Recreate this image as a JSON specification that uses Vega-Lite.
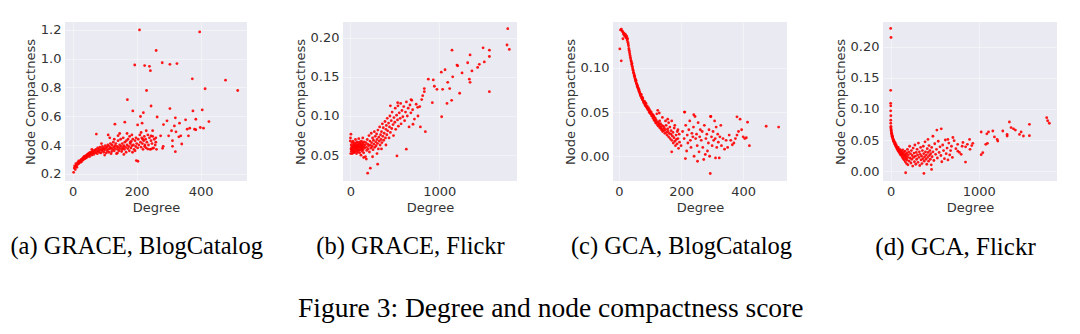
{
"$schema": "https://vega.github.io/schema/vega-lite/v6.json",
"background": "white",
"padding": {"left": 10, "top": 22, "right": 5, "bottom": 2},
"bounds": "flush",
"spacing": 96,
"config": {
  "view": {"fill": "#EAEAF2", "stroke": null},
  "axis": {"grid": true, "gridColor": "#FFFFFF", "gridOpacity": 0.4, "gridWidth": 1, "domain": false, "ticks": false, "labelFont": "DejaVu Sans", "labelFontSize": 13, "labelColor": "#333333", "titleFont": "DejaVu Sans", "titleFontSize": 13, "titleFontWeight": "normal", "titleColor": "#333333", "labelPadding": 4, "titlePadding": 3},
  "title": {"font": "Liberation Serif", "fontWeight": "normal", "color": "#000000"}
},
"title": {"text": "Figure 3: Degree and node compactness score", "orient": "bottom", "anchor": "middle", "fontSize": 27.5, "offset": 35, "dx": 17},
"datasets": {
"a": [
{"x":209,"y":1.2},{"x":397,"y":1.186},{"x":261,"y":1.057},{"x":194,"y":0.956},{"x":225,"y":0.952},{"x":240,"y":0.947},{"x":243,"y":0.917},{"x":280,"y":0.972},{"x":304,"y":0.961},{"x":326,"y":0.966},{"x":374,"y":0.86},{"x":478,"y":0.851},{"x":414,"y":0.791},{"x":516,"y":0.779},{"x":231,"y":0.779},{"x":171,"y":0.715},{"x":245,"y":0.671},{"x":188,"y":0.637},{"x":221,"y":0.625},{"x":304,"y":0.653},{"x":376,"y":0.637},{"x":405,"y":0.644},{"x":212,"y":0.598},{"x":264,"y":0.595},{"x":163,"y":0.559},{"x":132,"y":0.545},{"x":203,"y":0.54},{"x":217,"y":0.552},{"x":284,"y":0.542},{"x":295,"y":0.568},{"x":321,"y":0.589},{"x":318,"y":0.533},{"x":334,"y":0.552},{"x":353,"y":0.575},{"x":385,"y":0.579},{"x":358,"y":0.51},{"x":366,"y":0.517},{"x":381,"y":0.51},{"x":399,"y":0.522},{"x":409,"y":0.517},{"x":385,"y":0.506},{"x":426,"y":0.563},{"x":309,"y":0.499},{"x":323,"y":0.492},{"x":338,"y":0.464},{"x":332,"y":0.457},{"x":312,"y":0.43},{"x":283,"y":0.391},{"x":281,"y":0.377},{"x":312,"y":0.391},{"x":321,"y":0.354},{"x":341,"y":0.407},{"x":362,"y":0.464},{"x":275,"y":0.464},{"x":300,"y":0.464},
{"x":3,"y":0.21},{"x":5,"y":0.24},{"x":6,"y":0.255},{"x":8,"y":0.23},{"x":9,"y":0.25},{"x":10,"y":0.27},{"x":12,"y":0.255},{"x":13,"y":0.245},{"x":15,"y":0.265},{"x":16,"y":0.28},{"x":18,"y":0.27},{"x":19,"y":0.29},{"x":20,"y":0.275},{"x":22,"y":0.285},{"x":23,"y":0.29},{"x":25,"y":0.28},{"x":26,"y":0.295},{"x":27,"y":0.3},{"x":28,"y":0.285},{"x":30,"y":0.305},{"x":31,"y":0.295},{"x":33,"y":0.31},{"x":34,"y":0.3},{"x":35,"y":0.315},{"x":36,"y":0.32},{"x":38,"y":0.305},{"x":39,"y":0.315},{"x":40,"y":0.325},{"x":41,"y":0.31},{"x":43,"y":0.32},{"x":44,"y":0.33},{"x":45,"y":0.315},{"x":46,"y":0.335},{"x":48,"y":0.325},{"x":49,"y":0.34},{"x":50,"y":0.33},{"x":52,"y":0.345},{"x":53,"y":0.32},{"x":55,"y":0.335},{"x":56,"y":0.35},{"x":58,"y":0.34},{"x":60,"y":0.33},{"x":61,"y":0.355},{"x":63,"y":0.345},{"x":65,"y":0.36},{"x":66,"y":0.335},{"x":68,"y":0.35},{"x":70,"y":0.365},{"x":72,"y":0.345},{"x":73,"y":0.37},{"x":75,"y":0.355},{"x":77,"y":0.34},{"x":78,"y":0.38},{"x":80,"y":0.36},{"x":82,"y":0.37},{"x":83,"y":0.35},{"x":85,"y":0.385},{"x":87,"y":0.365},{"x":88,"y":0.345},{"x":90,"y":0.375},{"x":92,"y":0.36},{"x":93,"y":0.39},{"x":95,"y":0.37},{"x":97,"y":0.35},{"x":98,"y":0.38},{"x":100,"y":0.365},{"x":102,"y":0.395},{"x":104,"y":0.375},{"x":105,"y":0.345},{"x":107,"y":0.385},{"x":108,"y":0.36},{"x":110,"y":0.4},{"x":112,"y":0.37},{"x":113,"y":0.35},{"x":115,"y":0.39},{"x":117,"y":0.375},{"x":118,"y":0.41},{"x":120,"y":0.38},{"x":122,"y":0.355},{"x":123,"y":0.4},{"x":125,"y":0.37},{"x":127,"y":0.42},{"x":128,"y":0.385},{"x":130,"y":0.36},{"x":132,"y":0.395},{"x":133,"y":0.375},{"x":135,"y":0.41},{"x":137,"y":0.34},{"x":138,"y":0.39},{"x":140,"y":0.37},{"x":142,"y":0.43},{"x":143,"y":0.385},{"x":145,"y":0.36},{"x":147,"y":0.4},{"x":148,"y":0.375},{"x":150,"y":0.44},{"x":152,"y":0.39},{"x":153,"y":0.355},{"x":155,"y":0.41},{"x":157,"y":0.38},{"x":158,"y":0.45},{"x":160,"y":0.395},{"x":162,"y":0.37},{"x":163,"y":0.42},{"x":165,"y":0.385},{"x":167,"y":0.35},{"x":168,"y":0.43},{"x":170,"y":0.4},{"x":172,"y":0.375},{"x":173,"y":0.44},{"x":175,"y":0.39},{"x":177,"y":0.36},{"x":178,"y":0.46},{"x":180,"y":0.41},{"x":182,"y":0.38},{"x":183,"y":0.425},{"x":185,"y":0.395},{"x":187,"y":0.35},{"x":188,"y":0.44},{"x":190,"y":0.4},{"x":192,"y":0.37},{"x":195,"y":0.43},{"x":197,"y":0.39},{"x":198,"y":0.45},{"x":200,"y":0.41},{"x":203,"y":0.38},{"x":205,"y":0.44},{"x":207,"y":0.4},{"x":210,"y":0.47},{"x":212,"y":0.42},{"x":214,"y":0.385},{"x":216,"y":0.45},{"x":218,"y":0.41},{"x":220,"y":0.37},{"x":222,"y":0.43},{"x":224,"y":0.46},{"x":226,"y":0.4},{"x":228,"y":0.44},{"x":230,"y":0.38},{"x":232,"y":0.42},{"x":235,"y":0.47},{"x":237,"y":0.4},{"x":240,"y":0.45},{"x":242,"y":0.37},{"x":245,"y":0.43},{"x":248,"y":0.41},{"x":250,"y":0.46},{"x":253,"y":0.38},{"x":255,"y":0.44},{"x":258,"y":0.4},{"x":260,"y":0.45},{"x":262,"y":0.37},
{"x":74,"y":0.476},{"x":100,"y":0.33},{"x":120,"y":0.34},{"x":140,"y":0.345},{"x":160,"y":0.335},{"x":199,"y":0.292},{"x":204,"y":0.287},{"x":111,"y":0.47},{"x":142,"y":0.465},{"x":147,"y":0.48},{"x":116,"y":0.45},{"x":214,"y":0.487},{"x":230,"y":0.499},{"x":245,"y":0.464},{"x":250,"y":0.5},{"x":219,"y":0.44},{"x":235,"y":0.372},{"x":245,"y":0.372},{"x":250,"y":0.377},{"x":170,"y":0.48},{"x":185,"y":0.47},{"x":130,"y":0.44},{"x":90,"y":0.41},{"x":60,"y":0.37},{"x":155,"y":0.37},{"x":195,"y":0.36},{"x":180,"y":0.42},{"x":225,"y":0.39},{"x":260,"y":0.42}
],
"b": [
{"x":1768,"y":0.2115},{"x":1760,"y":0.1906},{"x":1786,"y":0.185},{"x":1142,"y":0.184},{"x":1491,"y":0.187},{"x":1562,"y":0.184},{"x":1345,"y":0.178},{"x":1562,"y":0.176},{"x":1198,"y":0.165},{"x":1206,"y":0.164},{"x":1318,"y":0.168},{"x":1449,"y":0.166},{"x":1505,"y":0.169},{"x":1366,"y":0.1575},{"x":1430,"y":0.162},{"x":1022,"y":0.156},{"x":1064,"y":0.159},{"x":932,"y":0.146},{"x":876,"y":0.147},{"x":1150,"y":0.15},{"x":1255,"y":0.155},{"x":1337,"y":0.147},{"x":1345,"y":0.143},{"x":1094,"y":0.143},{"x":1037,"y":0.134},{"x":973,"y":0.134},{"x":831,"y":0.135},{"x":831,"y":0.131},{"x":944,"y":0.138},{"x":1116,"y":0.135},{"x":1228,"y":0.129},{"x":1562,"y":0.131},{"x":921,"y":0.117},{"x":1086,"y":0.116},{"x":1138,"y":0.12},{"x":1026,"y":0.099},{"x":682,"y":0.121},{"x":813,"y":0.126},{"x":802,"y":0.121},{"x":757,"y":0.111},{"x":704,"y":0.0895},{"x":787,"y":0.086},{"x":843,"y":0.08},{"x":629,"y":0.0576},{"x":524,"y":0.049},{"x":307,"y":0.0385},{"x":225,"y":0.0334},{"x":195,"y":0.027},{"x":7,"y":0.0768},{"x":0,"y":0.0682},
{"x":5,"y":0.052},{"x":8,"y":0.058},{"x":10,"y":0.063},{"x":12,"y":0.055},{"x":15,"y":0.06},{"x":18,"y":0.066},{"x":20,"y":0.057},{"x":22,"y":0.052},{"x":25,"y":0.061},{"x":28,"y":0.068},{"x":30,"y":0.055},{"x":33,"y":0.059},{"x":35,"y":0.064},{"x":38,"y":0.053},{"x":40,"y":0.062},{"x":43,"y":0.057},{"x":45,"y":0.066},{"x":48,"y":0.06},{"x":50,"y":0.054},{"x":53,"y":0.063},{"x":55,"y":0.058},{"x":58,"y":0.07},{"x":60,"y":0.061},{"x":63,"y":0.055},{"x":65,"y":0.065},{"x":68,"y":0.059},{"x":70,"y":0.052},{"x":73,"y":0.062},{"x":75,"y":0.067},{"x":78,"y":0.057},{"x":80,"y":0.063},{"x":83,"y":0.06},{"x":85,"y":0.054},{"x":88,"y":0.066},{"x":90,"y":0.058},{"x":93,"y":0.062},{"x":95,"y":0.071},{"x":98,"y":0.056},{"x":100,"y":0.064},{"x":103,"y":0.06},{"x":105,"y":0.053},{"x":108,"y":0.067},{"x":110,"y":0.061},{"x":113,"y":0.057},{"x":115,"y":0.065},{"x":118,"y":0.059},{"x":120,"y":0.05},{"x":123,"y":0.063},{"x":125,"y":0.068},{"x":128,"y":0.058},{"x":130,"y":0.062},{"x":133,"y":0.055},{"x":135,"y":0.066},{"x":138,"y":0.06},{"x":140,"y":0.072},{"x":143,"y":0.057},{"x":145,"y":0.064},{"x":148,"y":0.061},{"x":150,"y":0.053},{"x":155,"y":0.067},{"x":160,"y":0.059},{"x":165,"y":0.063},{"x":170,"y":0.048},{"x":175,"y":0.066},{"x":180,"y":0.06},{"x":185,"y":0.056},{"x":190,"y":0.07},{"x":195,"y":0.064},{"x":200,"y":0.058},{"x":205,"y":0.062},{"x":210,"y":0.075},{"x":215,"y":0.054},{"x":220,"y":0.068},{"x":225,"y":0.063},{"x":230,"y":0.059},{"x":235,"y":0.078},{"x":240,"y":0.066},{"x":245,"y":0.061},{"x":250,"y":0.072},{"x":255,"y":0.057},{"x":260,"y":0.069},{"x":265,"y":0.064},{"x":270,"y":0.08},{"x":275,"y":0.06},{"x":280,"y":0.074},{"x":285,"y":0.067},{"x":290,"y":0.062},{"x":295,"y":0.077},{"x":300,"y":0.07},{"x":305,"y":0.065},{"x":310,"y":0.082},{"x":315,"y":0.058},{"x":320,"y":0.073},{"x":325,"y":0.068},{"x":330,"y":0.086},{"x":335,"y":0.063},{"x":340,"y":0.076},{"x":345,"y":0.07},{"x":350,"y":0.08},{"x":355,"y":0.066},{"x":360,"y":0.09},{"x":365,"y":0.074},{"x":370,"y":0.085},{"x":375,"y":0.069},{"x":380,"y":0.078},{"x":390,"y":0.093},{"x":395,"y":0.072},{"x":400,"y":0.083},{"x":405,"y":0.088},{"x":410,"y":0.076},{"x":415,"y":0.097},{"x":420,"y":0.081},{"x":430,"y":0.091},{"x":435,"y":0.072},{"x":440,"y":0.086},{"x":445,"y":0.1},{"x":450,"y":0.079},{"x":460,"y":0.094},{"x":465,"y":0.084},{"x":470,"y":0.105},{"x":480,"y":0.089},{"x":485,"y":0.075},{"x":490,"y":0.098},{"x":500,"y":0.092},{"x":505,"y":0.11},{"x":510,"y":0.083},{"x":520,"y":0.101},{"x":530,"y":0.095},{"x":535,"y":0.113},{"x":540,"y":0.087},{"x":550,"y":0.104},{"x":560,"y":0.097},{"x":565,"y":0.116},{"x":570,"y":0.09},{"x":580,"y":0.107},{"x":590,"y":0.099},{"x":600,"y":0.112},{"x":610,"y":0.094},{"x":620,"y":0.105},{"x":630,"y":0.118},{"x":640,"y":0.1},{"x":650,"y":0.11},{"x":660,"y":0.086},{"x":670,"y":0.114},{"x":680,"y":0.104},{"x":690,"y":0.12},{"x":700,"y":0.108},{"x":720,"y":0.096},{"x":740,"y":0.115},{"x":760,"y":0.1},{"x":780,"y":0.112},{"x":450,"y":0.113},{"x":532,"y":0.117},{"x":250,"y":0.048},{"x":300,"y":0.052},{"x":180,"y":0.045},{"x":350,"y":0.058},{"x":400,"y":0.063},{"x":150,"y":0.047},{"x":2,"y":0.072}
],
"c": [
{"x":3,"y":0.1215},{"x":7.5,"y":0.108},{"x":13,"y":0.133},
{"x":5,"y":0.143},{"x":8,"y":0.144},{"x":10,"y":0.142},{"x":12,"y":0.141},{"x":14,"y":0.14},{"x":15,"y":0.138},{"x":17,"y":0.139},{"x":18,"y":0.137},{"x":20,"y":0.136},{"x":21,"y":0.138},{"x":22,"y":0.135},{"x":24,"y":0.134},{"x":25,"y":0.136},{"x":26,"y":0.133},{"x":27,"y":0.131},{"x":28,"y":0.133},{"x":29,"y":0.129},{"x":30,"y":0.127},{"x":31,"y":0.125},{"x":32,"y":0.122},{"x":33,"y":0.12},{"x":34,"y":0.118},{"x":35,"y":0.116},{"x":36,"y":0.114},{"x":37,"y":0.112},{"x":38,"y":0.11},{"x":39,"y":0.108},{"x":40,"y":0.107},{"x":41,"y":0.104},{"x":42,"y":0.105},{"x":43,"y":0.102},{"x":44,"y":0.1},{"x":45,"y":0.098},{"x":46,"y":0.097},{"x":47,"y":0.095},{"x":48,"y":0.094},{"x":49,"y":0.092},{"x":50,"y":0.09},{"x":51,"y":0.091},{"x":52,"y":0.088},{"x":53,"y":0.087},{"x":54,"y":0.085},{"x":55,"y":0.086},{"x":56,"y":0.083},{"x":57,"y":0.082},{"x":58,"y":0.081},{"x":59,"y":0.079},{"x":60,"y":0.08},{"x":61,"y":0.078},{"x":62,"y":0.077},{"x":63,"y":0.076},{"x":64,"y":0.074},{"x":65,"y":0.075},{"x":66,"y":0.073},{"x":67,"y":0.072},{"x":68,"y":0.071},{"x":69,"y":0.07},{"x":70,"y":0.069},{"x":71,"y":0.068},{"x":72,"y":0.07},{"x":73,"y":0.066},{"x":74,"y":0.067},{"x":75,"y":0.065},{"x":76,"y":0.064},{"x":77,"y":0.066},{"x":78,"y":0.063},{"x":79,"y":0.062},{"x":80,"y":0.061},{"x":82,"y":0.06},{"x":83,"y":0.062},{"x":84,"y":0.058},{"x":85,"y":0.059},{"x":86,"y":0.057},{"x":87,"y":0.06},{"x":88,"y":0.056},{"x":90,"y":0.055},{"x":91,"y":0.057},{"x":92,"y":0.054},{"x":93,"y":0.053},{"x":95,"y":0.055},{"x":96,"y":0.052},{"x":97,"y":0.05},{"x":98,"y":0.053},{"x":100,"y":0.049},{"x":101,"y":0.051},{"x":102,"y":0.048},{"x":104,"y":0.05},{"x":105,"y":0.046},{"x":106,"y":0.048},{"x":108,"y":0.045},{"x":109,"y":0.047},{"x":110,"y":0.043},{"x":112,"y":0.046},{"x":113,"y":0.041},{"x":114,"y":0.044},{"x":116,"y":0.04},{"x":117,"y":0.043},{"x":118,"y":0.038},{"x":120,"y":0.041},{"x":121,"y":0.037},{"x":122,"y":0.048},{"x":124,"y":0.039},{"x":125,"y":0.035},{"x":127,"y":0.038},{"x":128,"y":0.034},{"x":130,"y":0.036},{"x":131,"y":0.04},{"x":132,"y":0.032},{"x":134,"y":0.037},{"x":135,"y":0.033},{"x":137,"y":0.03},{"x":138,"y":0.035},{"x":140,"y":0.031},{"x":141,"y":0.028},{"x":143,"y":0.034},{"x":145,"y":0.029},{"x":146,"y":0.032},{"x":148,"y":0.026},{"x":150,"y":0.03},{"x":152,"y":0.035},{"x":153,"y":0.027},{"x":155,"y":0.024},{"x":157,"y":0.031},{"x":158,"y":0.028},{"x":160,"y":0.022},{"x":162,"y":0.026},{"x":164,"y":0.033},{"x":165,"y":0.02},{"x":167,"y":0.025},{"x":168,"y":0.029},{"x":170,"y":0.018},{"x":172,"y":0.023},{"x":174,"y":0.027},{"x":175,"y":0.015},{"x":177,"y":0.021},{"x":178,"y":0.032},{"x":180,"y":0.017},{"x":182,"y":0.012},{"x":184,"y":0.024},{"x":185,"y":0.019},{"x":187,"y":0.014},{"x":188,"y":0.028},{"x":190,"y":0.02},{"x":192,"y":0.009},{"x":194,"y":0.025},{"x":195,"y":0.016},
{"x":125,"y":0.052},{"x":130,"y":0.049},{"x":140,"y":0.044},{"x":150,"y":0.04},{"x":160,"y":0.038},{"x":170,"y":0.04},{"x":157,"y":0.042},
{"x":170,"y":0.005},{"x":180,"y":0.035},{"x":190,"y":0.03},{"x":200,"y":0.012},{"x":205,"y":0.028},{"x":210,"y":0.02},{"x":212,"y":0.05},{"x":215,"y":0.035},{"x":218,"y":0.006},{"x":220,"y":0.024},{"x":222,"y":0.015},{"x":225,"y":0.03},{"x":228,"y":0.04},{"x":230,"y":0.018},{"x":232,"y":0.01},{"x":235,"y":0.026},{"x":238,"y":0.022},{"x":240,"y":0.033},{"x":242,"y":0.0},{"x":245,"y":0.045},{"x":247,"y":0.02},{"x":250,"y":0.025},{"x":252,"y":0.012},{"x":255,"y":0.038},{"x":258,"y":0.005},{"x":260,"y":0.022},{"x":262,"y":0.03},{"x":265,"y":0.018},{"x":268,"y":0.028},{"x":270,"y":0.01},{"x":275,"y":0.035},{"x":278,"y":0.002},{"x":280,"y":0.02},{"x":283,"y":0.025},{"x":285,"y":0.006},{"x":288,"y":0.015},{"x":290,"y":0.03},{"x":292,"y":0.0},{"x":295,"y":0.045},{"x":298,"y":0.022},{"x":300,"y":0.012},{"x":303,"y":0.028},{"x":305,"y":0.018},{"x":308,"y":0.04},{"x":310,"y":0.02},{"x":313,"y":0.033},{"x":315,"y":0.01},{"x":318,"y":0.025},{"x":320,"y":0.016},{"x":325,"y":0.022},{"x":328,"y":0.035},{"x":330,"y":0.012},{"x":335,"y":0.02},{"x":340,"y":0.008},{"x":345,"y":0.018},{"x":350,"y":0.01},{"x":355,"y":0.024},{"x":360,"y":0.018},{"x":365,"y":0.013},{"x":370,"y":0.015},{"x":375,"y":0.02},{"x":380,"y":0.024},{"x":385,"y":0.028},{"x":390,"y":0.042},{"x":395,"y":0.03},{"x":400,"y":0.022},{"x":405,"y":0.02},{"x":410,"y":0.021},{"x":414,"y":0.0386},{"x":420,"y":0.012},{"x":474,"y":0.034},{"x":514,"y":0.033},{"x":380,"y":0.0446},{"x":296,"y":0.045},{"x":241,"y":0.047},{"x":211,"y":0.05},{"x":214,"y":-0.0026},{"x":253,"y":-0.0056},{"x":273,"y":-0.0037},{"x":294,"y":-0.0195},{"x":311,"y":-0.0019},{"x":323,"y":-0.0019}
],
"d": [
{"x":0,"y":0.2296},{"x":4,"y":0.215},{"x":0,"y":0.13},{"x":0,"y":0.109},{"x":1,"y":0.105},{"x":0,"y":0.097},{"x":2,"y":0.089},{"x":1,"y":0.082},{"x":1,"y":0.077},
{"x":1027,"y":0.0629},{"x":1091,"y":0.06},{"x":1110,"y":0.063},{"x":1027,"y":0.0264},{"x":1045,"y":0.0296},{"x":1079,"y":0.043},{"x":1098,"y":0.0447},{"x":1208,"y":0.051},{"x":1215,"y":0.0484},{"x":1347,"y":0.079},{"x":1321,"y":0.059},{"x":1321,"y":0.0565},{"x":1366,"y":0.07},{"x":1393,"y":0.068},{"x":1415,"y":0.066},{"x":1461,"y":0.059},{"x":1480,"y":0.063},{"x":1506,"y":0.0565},{"x":1574,"y":0.0753},{"x":1574,"y":0.057},{"x":1770,"y":0.086},{"x":1781,"y":0.081},{"x":1800,"y":0.077},{"x":1272,"y":0.0645},{"x":1159,"y":0.0645},{"x":1177,"y":0.055},{"x":849,"y":0.0145},{"x":800,"y":0.027},{"x":895,"y":0.051},{"x":932,"y":0.0447},{"x":811,"y":0.04},{"x":762,"y":0.032},{"x":706,"y":0.054},{"x":649,"y":0.051},{"x":574,"y":0.068},{"x":524,"y":0.066},{"x":170,"y":-0.0027},{"x":377,"y":-0.0038},{"x":464,"y":0.0027},{"x":423,"y":0.051},{"x":479,"y":0.056},
{"x":2,"y":0.07},{"x":3,"y":0.072},{"x":4,"y":0.068},{"x":5,"y":0.065},{"x":6,"y":0.066},{"x":8,"y":0.063},{"x":10,"y":0.06},{"x":12,"y":0.061},{"x":14,"y":0.058},{"x":16,"y":0.056},{"x":18,"y":0.057},{"x":20,"y":0.054},{"x":22,"y":0.055},{"x":25,"y":0.052},{"x":28,"y":0.05},{"x":30,"y":0.051},{"x":33,"y":0.048},{"x":36,"y":0.049},{"x":40,"y":0.046},{"x":43,"y":0.047},{"x":46,"y":0.044},{"x":50,"y":0.043},{"x":53,"y":0.045},{"x":56,"y":0.041},{"x":60,"y":0.04},{"x":63,"y":0.042},{"x":66,"y":0.038},{"x":70,"y":0.037},{"x":73,"y":0.039},{"x":76,"y":0.035},{"x":80,"y":0.036},{"x":83,"y":0.033},{"x":86,"y":0.038},{"x":90,"y":0.032},{"x":93,"y":0.034},{"x":96,"y":0.03},{"x":100,"y":0.031},{"x":103,"y":0.035},{"x":106,"y":0.028},{"x":110,"y":0.03},{"x":113,"y":0.026},{"x":116,"y":0.033},{"x":120,"y":0.029},{"x":123,"y":0.025},{"x":126,"y":0.031},{"x":130,"y":0.027},{"x":133,"y":0.022},{"x":136,"y":0.034},{"x":140,"y":0.028},{"x":143,"y":0.02},{"x":146,"y":0.025},{"x":150,"y":0.03},{"x":153,"y":0.018},{"x":156,"y":0.026},{"x":160,"y":0.022},{"x":163,"y":0.032},{"x":166,"y":0.015},{"x":170,"y":0.027},{"x":173,"y":0.02},{"x":176,"y":0.024},{"x":180,"y":0.012},{"x":183,"y":0.029},{"x":186,"y":0.018},{"x":190,"y":0.035},{"x":193,"y":0.022},{"x":196,"y":0.01},{"x":200,"y":0.026},{"x":205,"y":0.031},{"x":210,"y":0.016},{"x":215,"y":0.04},{"x":220,"y":0.021},{"x":225,"y":0.028},{"x":230,"y":0.013},{"x":235,"y":0.033},{"x":240,"y":0.019},{"x":245,"y":0.025},{"x":250,"y":0.008},{"x":255,"y":0.037},{"x":260,"y":0.022},{"x":265,"y":0.029},{"x":270,"y":0.015},{"x":275,"y":0.042},{"x":280,"y":0.024},{"x":285,"y":0.011},{"x":290,"y":0.03},{"x":295,"y":0.019},{"x":300,"y":0.035},{"x":305,"y":0.026},{"x":310,"y":0.014},{"x":315,"y":0.045},{"x":320,"y":0.022},{"x":325,"y":0.031},{"x":330,"y":0.009},{"x":335,"y":0.027},{"x":340,"y":0.038},{"x":345,"y":0.018},{"x":350,"y":0.024},{"x":355,"y":0.012},{"x":360,"y":0.033},{"x":365,"y":0.02},{"x":370,"y":0.04},{"x":375,"y":0.028},{"x":380,"y":0.016},{"x":385,"y":0.023},{"x":390,"y":0.047},{"x":395,"y":0.031},{"x":400,"y":0.019},{"x":405,"y":0.026},{"x":410,"y":0.011},{"x":415,"y":0.036},{"x":420,"y":0.022},{"x":425,"y":0.03},{"x":430,"y":0.016},{"x":435,"y":0.041},{"x":440,"y":0.025},{"x":445,"y":0.033},{"x":450,"y":0.019},{"x":455,"y":0.028},{"x":460,"y":0.01},{"x":465,"y":0.038},{"x":470,"y":0.023},{"x":480,"y":0.031},{"x":490,"y":0.017},{"x":500,"y":0.044},{"x":510,"y":0.027},{"x":520,"y":0.035},{"x":530,"y":0.021},{"x":540,"y":0.048},{"x":550,"y":0.03},{"x":560,"y":0.039},{"x":570,"y":0.025},{"x":580,"y":0.015},{"x":590,"y":0.042},{"x":600,"y":0.033},{"x":610,"y":0.02},{"x":620,"y":0.05},{"x":630,"y":0.028},{"x":640,"y":0.037},{"x":650,"y":0.018},{"x":660,"y":0.045},{"x":670,"y":0.026},{"x":680,"y":0.033},{"x":690,"y":0.04},{"x":700,"y":0.022},{"x":720,"y":0.049},{"x":740,"y":0.036},{"x":760,"y":0.043},{"x":780,"y":0.03},{"x":820,"y":0.046},{"x":850,"y":0.039},{"x":870,"y":0.043},{"x":900,"y":0.035},{"x":920,"y":0.041}
]
},
"hconcat": [
{
  "width": 182, "height": 159,
  "title": {"text": "(a) GRACE, BlogCatalog", "orient": "bottom", "frame": "bounds", "anchor": "middle", "fontSize": 24.5, "offset": 21, "dx": 1},
  "data": {"name": "a"},
  "mark": {"type": "point", "filled": true, "size": 8, "opacity": 0.9, "color": "#FF0000"},
  "encoding": {
    "x": {"field": "x", "type": "quantitative", "scale": {"domain": [-24, 545], "nice": false, "zero": false}, "axis": {"values": [0, 200, 400], "format": "d", "title": "Degree"}},
    "y": {"field": "y", "type": "quantitative", "scale": {"domain": [0.15, 1.255], "nice": false, "zero": false}, "axis": {"values": [0.2, 0.4, 0.6, 0.8, 1.0, 1.2], "format": ".1f", "title": "Node Compactness"}}
  }
},
{
  "width": 174, "height": 159,
  "title": {"text": "(b) GRACE, Flickr", "orient": "bottom", "frame": "bounds", "anchor": "middle", "fontSize": 24.5, "offset": 21, "dx": 5},
  "data": {"name": "b"},
  "mark": {"type": "point", "filled": true, "size": 8, "opacity": 0.9, "color": "#FF0000"},
  "encoding": {
    "x": {"field": "x", "type": "quantitative", "scale": {"domain": [-82, 1872], "nice": false, "zero": false}, "axis": {"values": [0, 1000], "format": "d", "title": "Degree"}},
    "y": {"field": "y", "type": "quantitative", "scale": {"domain": [0.017, 0.22], "nice": false, "zero": false}, "axis": {"values": [0.05, 0.1, 0.15, 0.2], "format": ".2f", "title": "Node Compactness"}}
  }
},
{
  "width": 174, "height": 159,
  "title": {"text": "(c) GCA, BlogCatalog", "orient": "bottom", "frame": "bounds", "anchor": "middle", "fontSize": 24.5, "offset": 21, "dx": 6},
  "data": {"name": "c"},
  "mark": {"type": "point", "filled": true, "size": 8, "opacity": 0.9, "color": "#FF0000"},
  "encoding": {
    "x": {"field": "x", "type": "quantitative", "scale": {"domain": [-19, 541], "nice": false, "zero": false}, "axis": {"values": [0, 200, 400], "format": "d", "title": "Degree"}},
    "y": {"field": "y", "type": "quantitative", "scale": {"domain": [-0.028, 0.152], "nice": false, "zero": false}, "axis": {"values": [0, 0.05, 0.1], "format": ".2f", "title": "Node Compactness"}}
  }
},
{
  "width": 174, "height": 159,
  "title": {"text": "(d) GCA, Flickr", "orient": "bottom", "frame": "bounds", "anchor": "middle", "fontSize": 25, "offset": 21, "dx": 10},
  "data": {"name": "d"},
  "mark": {"type": "point", "filled": true, "size": 8, "opacity": 0.9, "color": "#FF0000"},
  "encoding": {
    "x": {"field": "x", "type": "quantitative", "scale": {"domain": [-87, 1887], "nice": false, "zero": false}, "axis": {"values": [0, 1000], "format": "d", "title": "Degree"}},
    "y": {"field": "y", "type": "quantitative", "scale": {"domain": [-0.016, 0.24], "nice": false, "zero": false}, "axis": {"values": [0, 0.05, 0.1, 0.15, 0.2], "format": ".2f", "title": "Node Compactness"}}
  }
}
]
}
